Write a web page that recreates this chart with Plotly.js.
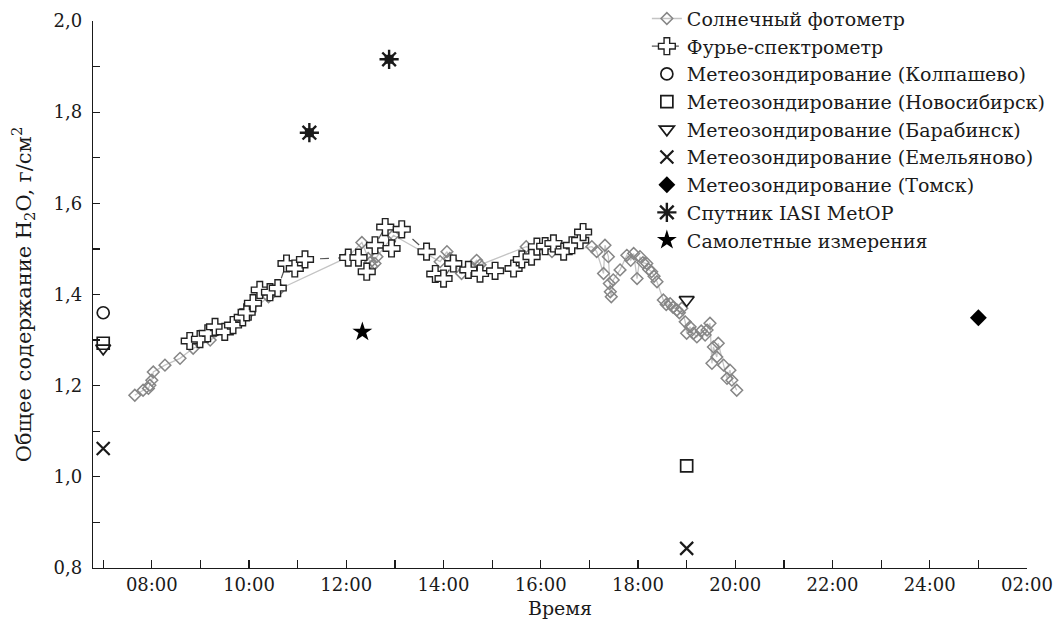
<!DOCTYPE html>
<html><head><meta charset="utf-8">
<script src="https://cdn.plot.ly/plotly-3.0.1.min.js"></script>
<style>html,body{margin:0;padding:0;background:#fff}#chart{width:1059px;height:628px}</style>
</head><body><div id="chart"></div>
<script>
// Солнечный фотометр (time in hours, value g/cm2)
const photometerTime = [7.65,7.82,7.93,7.96,8.00,8.03,8.27,8.58,8.85,9.20,9.60,10.00,10.40,10.63,
  12.03,12.32,12.45,12.49,12.52,12.59,12.63,12.97,
  13.93,14.07,14.13,14.20,14.37,14.55,14.68,14.75,15.70,16.23,16.47,
  17.05,17.15,17.29,17.32,17.39,17.41,17.43,17.45,17.49,17.63,17.77,17.85,17.91,17.98,18.04,18.10,18.18,18.22,18.28,18.33,18.39,
  18.52,18.58,18.66,18.72,18.80,18.85,18.90,18.97,19.00,19.07,19.14,19.21,19.30,19.38,19.42,19.48,
  19.52,19.55,19.62,19.65,19.76,19.83,19.89,19.93,20.03];
const photometerValue = [1.179,1.190,1.194,1.201,1.212,1.230,1.245,1.260,1.282,1.300,1.325,1.360,1.395,1.412,
  1.482,1.514,1.479,1.470,1.462,1.468,1.483,1.530,
  1.472,1.494,1.479,1.470,1.446,1.460,1.475,1.465,1.505,1.494,1.494,
  1.505,1.494,1.446,1.508,1.483,1.424,1.406,1.395,1.432,1.454,1.486,1.475,1.490,1.435,1.483,1.470,1.468,1.455,1.450,1.440,1.428,
  1.388,1.378,1.380,1.372,1.366,1.360,1.370,1.340,1.315,1.329,1.315,1.307,1.320,1.311,1.322,1.337,
  1.249,1.285,1.263,1.293,1.245,1.216,1.234,1.212,1.190];

// Фурье-спектрометр
const fourierTime = [8.78,8.99,9.15,9.30,9.50,9.67,9.87,9.95,10.08,10.22,10.43,10.59,10.77,10.94,11.15,
  12.04,12.25,12.42,12.59,12.80,12.93,13.14,13.65,13.83,14.00,14.20,14.51,14.75,15.06,15.44,15.61,15.81,15.92,
  16.09,16.26,16.47,16.64,16.81,16.87];
const fourierValue = [1.298,1.302,1.315,1.329,1.318,1.333,1.350,1.361,1.381,1.410,1.405,1.414,1.468,1.457,1.477,
  1.481,1.481,1.450,1.508,1.548,1.501,1.543,1.494,1.445,1.435,1.468,1.454,1.446,1.452,1.457,1.477,1.483,1.505,
  1.506,1.512,1.494,1.508,1.519,1.537];

// Метеозондирование
const kolpashevoTime = [7.0];        const kolpashevoValue = [1.36];
const novosibirskTime = [7.0, 19.0]; const novosibirskValue = [1.293, 1.024];
const barabinskTime = [7.0, 19.0];   const barabinskValue = [1.282, 1.388];
const emelyanovoTime = [7.0, 19.0];  const emelyanovoValue = [1.062, 0.843];
const tomskTime = [25.0];            const tomskValue = [1.349];
// Спутник IASI MetOP
const iasiTime = [11.24, 12.88];     const iasiValue = [1.755, 1.916];
// Самолетные измерения
const aircraftTime = [12.33];        const aircraftValue = [1.318];

// Ticks
const xTickVals = [8,10,12,14,16,18,20,22,24,26];
const xTickText = ['08:00','10:00','12:00','14:00','16:00','18:00','20:00','22:00','24:00','02:00'];
const yTickVals = [0.8,1.0,1.2,1.4,1.6,1.8,2.0];
const yTickText = ['0,8','1,0','1,2','1,4','1,6','1,8','2,0'];

const FONT = 'DejaVu Serif, Liberation Serif, serif';
const INK = '#1a1a1a';

const traces = [
  {x: photometerTime, y: photometerValue, name: 'Солнечный фотометр', mode: 'lines+markers',
   line: {color: '#c4c4c4', width: 1.3},
   marker: {symbol: 'diamond-open', size: 9, color: '#868686', line: {width: 1.5, color: '#868686'}}},
  {x: fourierTime, y: fourierValue, name: 'Фурье-спектрометр', mode: 'lines+markers',
   line: {color: '#555', width: 1.2, dash: 'dash'},
   marker: {symbol: 'cross', size: 14, color: '#fff', line: {width: 1.4, color: '#222'}}},
  {x: kolpashevoTime, y: kolpashevoValue, name: 'Метеозондирование (Колпашево)', mode: 'markers',
   marker: {symbol: 'circle-open', size: 12, color: INK, line: {width: 1.7, color: INK}}},
  {x: novosibirskTime, y: novosibirskValue, name: 'Метеозондирование (Новосибирск)', mode: 'markers',
   marker: {symbol: 'square-open', size: 12, color: INK, line: {width: 1.7, color: INK}}},
  {x: barabinskTime, y: barabinskValue, name: 'Метеозондирование (Барабинск)', mode: 'markers',
   marker: {symbol: 'triangle-down-open', size: 13, color: INK, line: {width: 1.7, color: INK}}},
  {x: emelyanovoTime, y: emelyanovoValue, name: 'Метеозондирование (Емельяново)', mode: 'markers',
   marker: {symbol: 'x-thin-open', size: 13, color: INK, line: {width: 2.2, color: INK}}},
  {x: tomskTime, y: tomskValue, name: 'Метеозондирование (Томск)', mode: 'markers',
   marker: {symbol: 'diamond', size: 13, color: '#000', line: {width: 0}}},
  {x: iasiTime, y: iasiValue, name: 'Спутник IASI MetOP', mode: 'markers',
   marker: {symbol: 'asterisk-open', size: 16, color: INK, line: {width: 2.4, color: INK}}},
  {x: iasiTime, y: iasiValue, name: 'Спутник IASI MetOP', mode: 'markers', showlegend: false, hoverinfo: 'skip',
   marker: {symbol: 'square', size: 9, color: INK, line: {width: 0}}},
  {x: aircraftTime, y: aircraftValue, name: 'Самолетные измерения', mode: 'markers',
   marker: {symbol: 'star', size: 15, color: '#000', line: {width: 0}}}
];

const layout = {
  width: 1059, height: 628,
  margin: {l: 93, r: 32, t: 21, b: 60, autoexpand: false},
  paper_bgcolor: '#fff', plot_bgcolor: '#fff',
  separators: ', ',
  font: {family: FONT, size: 18, color: INK},
  showlegend: true,
  legend: {x: 0.593, y: 1.039, xanchor: 'left', yanchor: 'top', bgcolor: 'rgba(0,0,0,0)',
           font: {family: FONT, size: 19, color: INK}, tracegroupgap: 0, itemsizing: 'trace'},
  xaxis: {range: [6.79, 26], showgrid: false, zeroline: false, showline: true, linecolor: INK, linewidth: 1.2,
          tickmode: 'array', tickvals: xTickVals, ticktext: xTickText, ticks: 'inside', ticklen: 8, tickcolor: INK, tickwidth: 1.2,
          minor: {tick0: 7, dtick: 1, ticks: 'inside', ticklen: 8, tickcolor: INK, tickwidth: 1.2, showgrid: false},
          tickfont: {family: FONT, size: 18, color: INK},
          title: {text: 'Время', font: {family: FONT, size: 19, color: INK}, standoff: 8}},
  yaxis: {range: [0.8, 2.0], showgrid: false, zeroline: false, showline: true, linecolor: INK, linewidth: 1.2,
          tickmode: 'array', tickvals: yTickVals, ticktext: yTickText, ticks: 'inside', ticklen: 7, tickcolor: INK, tickwidth: 1.2,
          minor: {tick0: 0.8, dtick: 0.1, ticks: 'inside', ticklen: 7, tickcolor: INK, tickwidth: 1.2, showgrid: false},
          tickfont: {family: FONT, size: 18, color: INK}, ticklabelstandoff: 6,
          title: {text: 'Общее содержание H<sub>2</sub>O, г/см<sup>2</sup>', font: {family: FONT, size: 21, color: INK}, standoff: 16}}
};

Plotly.newPlot('chart', traces, layout, {displayModeBar: false, staticPlot: true});
</script></body></html>
